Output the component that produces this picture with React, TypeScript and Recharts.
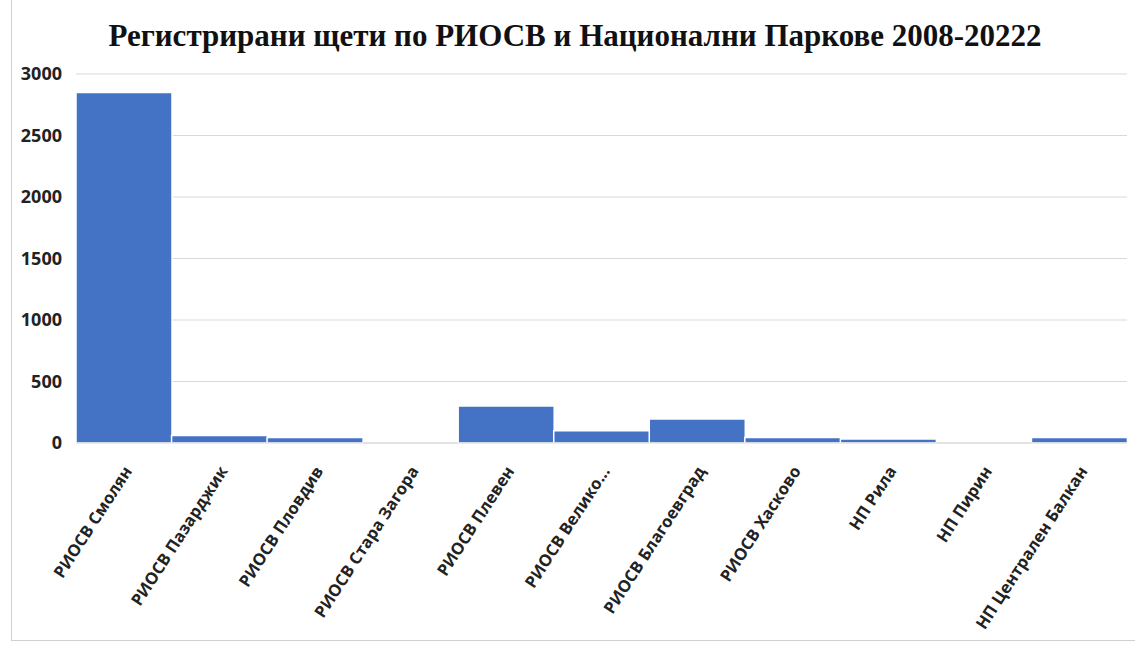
import { BarChart, Bar, XAxis, YAxis, CartesianGrid } from "recharts";

// categories (РИОСВ / национални паркове)
const categories = [
  "РИОСВ Смолян",
  "РИОСВ Пазарджик",
  "РИОСВ Пловдив",
  "РИОСВ Стара Загора",
  "РИОСВ Плевен",
  "РИОСВ Велико...",
  "РИОСВ Благоевград",
  "РИОСВ Хасково",
  "НП Рила",
  "НП Пирин",
  "НП Централен Балкан",
];

// registered damages 2008-2022
const damages = [2850, 60, 45, 0, 300, 100, 195, 45, 32, 0, 45];

const yTicks = [0, 500, 1000, 1500, 2000, 2500, 3000];

const data = categories.map((name, i) => ({ name, value: damages[i] }));

const SANS = "'Open Sans', sans-serif";

const RotatedTick = ({ x, y, payload }: any) => (
  <g transform={`translate(${x + 9},${y + 28})`}>
    <text
      textAnchor="end"
      transform="rotate(-57)"
      fontSize={16.5}
      fontWeight={700}
      fontFamily={SANS}
      fill="#222"
    >
      {payload.value}
    </text>
  </g>
);

export default function App() {
  return (
    <div
      style={{
        position: "fixed",
        left: 0,
        top: 0,
        width: 1135,
        height: 645,
        background: "#fff",
        overflow: "hidden",
      }}
    >
      {/* thin frame of the original screenshot */}
      <div
        style={{
          position: "absolute",
          left: 11,
          top: 0,
          width: 1130,
          height: 640,
          borderLeft: "1.5px solid #d0d0d0",
          borderBottom: "1.5px solid #d0d0d0",
        }}
      />
      <div
        style={{
          position: "absolute",
          left: 0,
          top: 20,
          width: 1150,
          textAlign: "center",
          fontFamily: "'Liberation Serif', 'Times New Roman', serif",
          fontWeight: 700,
          fontSize: 31,
          lineHeight: "31px",
          color: "#111",
          whiteSpace: "nowrap",
        }}
      >
        Регистрирани щети по РИОСВ и Национални Паркове 2008-20222
      </div>
      <div style={{ position: "absolute", left: 0, top: 0 }}>
        <BarChart
          width={1135}
          height={645}
          data={data}
          margin={{ top: 74, right: 8, bottom: 5, left: 0 }}
          barCategoryGap={0}
          barGap={0}
        >
          <CartesianGrid vertical={false} stroke="#d9d9d9" strokeWidth={1.2} />
          <XAxis
            dataKey="name"
            interval={0}
            height={197}
            tickSize={0}
            tickMargin={0}
            tickLine={false}
            axisLine={{ stroke: "#d9d9d9", strokeWidth: 1.2 }}
            tick={<RotatedTick />}
          />
          <YAxis
            width={76}
            domain={[0, 3000]}
            ticks={yTicks}
            tickSize={0}
            tickMargin={14}
            axisLine={false}
            tickLine={false}
            tick={{
              fontSize: 18,
              fontWeight: 700,
              fontFamily: SANS,
              fill: "#222",
            }}
          />
          <Bar
            dataKey="value"
            fill="#4472C4"
            stroke="#fff"
            strokeWidth={1.5}
            isAnimationActive={false}
          />
        </BarChart>
      </div>
    </div>
  );
}
